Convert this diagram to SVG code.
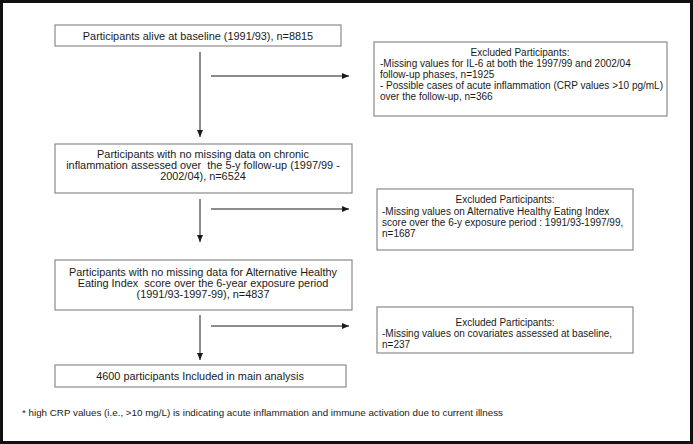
<svg xmlns="http://www.w3.org/2000/svg" width="693" height="444" viewBox="0 0 693 444">
<style>
.box{fill:#fff;stroke:#8a8a8a;stroke-width:1.2}
.t{font-family:"Liberation Sans",Arial,sans-serif;font-size:10px;fill:#1a1a1a;white-space:pre}
.m{font-size:10.9px}
.f{font-size:9.8px}
.c{text-anchor:middle}
.ln{stroke:#1a1a1a;stroke-width:1;fill:none;marker-end:url(#ah)}
</style>
<defs>
<marker id="ah" markerWidth="8" markerHeight="6" refX="7" refY="3" orient="auto" markerUnits="userSpaceOnUse">
<path d="M0,0 L7,3 L0,6 Z" fill="#1a1a1a"/>
</marker>
</defs>
<rect x="0" y="0" width="693" height="444" fill="#fff"/>
<rect x="1.5" y="1.5" width="690" height="441" fill="none" stroke="#111" stroke-width="3"/>
<g id="connectors">
<line class="ln" x1="200" y1="52" x2="200" y2="137"/>
<line class="ln" x1="211" y1="76" x2="349" y2="76"/>
<line class="ln" x1="200" y1="199" x2="200" y2="242"/>
<line class="ln" x1="211" y1="209" x2="349" y2="209"/>
<line class="ln" x1="200" y1="315" x2="200" y2="360"/>
<line class="ln" x1="211" y1="326" x2="349" y2="326"/>
</g>
<g id="n1">
<rect class="box" x="55" y="25" width="286" height="21"/>
<text class="t m c" x="198" y="39.5">Participants alive at baseline (1991/93), n=8815</text>
</g>
<g id="e1">
<rect class="box" x="374" y="42" width="293" height="74"/>
<text class="t c" x="520" y="56">Excluded Participants:</text>
<text class="t" x="380" y="67">-Missing values for IL-6 at both the 1997/99 and 2002/04</text>
<text class="t" x="380" y="78">follow-up phases, n=1925</text>
<text class="t" x="380" y="89">- Possible cases of acute inflammation (CRP values &gt;10 pg/mL)</text>
<text class="t" x="380" y="100">over the follow-up, n=366</text>
</g>
<g id="n2">
<rect class="box" x="55" y="144" width="297" height="49"/>
<text class="t m c" x="203" y="158">Participants with no missing data on chronic</text>
<text class="t m c" x="203" y="169">inflammation assessed over  the 5-y follow-up (1997/99 -</text>
<text class="t m c" x="203" y="180">2002/04), n=6524</text>
</g>
<g id="e2">
<rect class="box" x="377" y="189" width="256" height="61"/>
<text class="t c" x="505" y="203">Excluded Participants:</text>
<text class="t" x="382" y="215">-Missing values on Alternative Healthy Eating Index</text>
<text class="t" x="382" y="226">score over the 6-y exposure period : 1991/93-1997/99,</text>
<text class="t" x="382" y="237">n=1687</text>
</g>
<g id="n3">
<rect class="box" x="55" y="260" width="297" height="50"/>
<text class="t m c" x="203" y="276">Participants with no missing data for Alternative Healthy</text>
<text class="t m c" x="203" y="287">Eating Index  score over the 6-year exposure period</text>
<text class="t m c" x="203" y="298">(1991/93-1997-99), n=4837</text>
</g>
<g id="e3">
<rect class="box" x="377" y="307" width="256" height="46"/>
<text class="t c" x="505" y="326">Excluded Participants:</text>
<text class="t" x="382" y="337">-Missing values on covariates assessed at baseline,</text>
<text class="t" x="382" y="348">n=237</text>
</g>
<g id="n4">
<rect class="box" x="55" y="365" width="291" height="22"/>
<text class="t m c" x="200" y="380">4600 participants Included in main analysis</text>
</g>
<text class="t f" x="22" y="416">* high CRP values (i.e., &gt;10 mg/L) is indicating acute inflammation and immune activation due to current illness</text>
</svg>
